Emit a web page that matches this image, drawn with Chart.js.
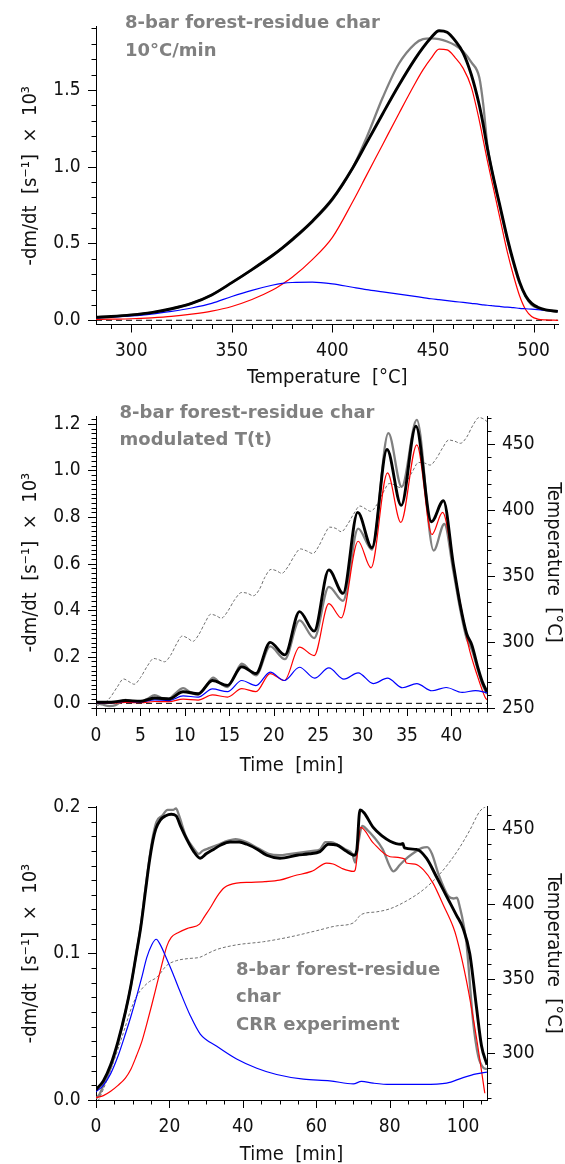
<!DOCTYPE html>
<html>
<head>
<meta charset="utf-8">
<title>Forest-residue char DTG</title>
<script src="https://cdn.jsdelivr.net/npm/chart.js"></script>
<style>
    body { margin: 0; width: 565px; height: 1164px; overflow: hidden; background: #fff; position: relative; }
    canvas { position: absolute; left: 0; }
</style>
</head>
<body>
<canvas id="chartTga" width="565" height="390" style="top:0px"></canvas>
<canvas id="chartMod" width="565" height="390" style="top:390px"></canvas>
<canvas id="chartCrr" width="565" height="390" style="top:780px"></canvas>
<script>
// ---- panel 1: 10 C/min, x = temperature [C]
var tgaTemp = [282.5, 290, 300, 310, 320, 330, 340, 350, 360, 370, 375, 380, 390, 400, 410, 417, 425, 433, 441, 445, 449, 453, 457, 461, 465, 469, 473, 475, 477, 480, 483, 487, 490, 493, 496, 499, 502, 506, 512];
var tgaExp = [0.018, 0.023, 0.033, 0.05, 0.075, 0.11, 0.165, 0.245, 0.33, 0.42, 0.47, 0.52, 0.64, 0.785, 0.99, 1.19, 1.45, 1.67, 1.8, 1.83, 1.835, 1.83, 1.815, 1.79, 1.75, 1.68, 1.58, 1.4, 1.14, 0.93, 0.75, 0.52, 0.37, 0.24, 0.155, 0.1, 0.08, 0.066, 0.057];
var tgaFit = [0.02, 0.025, 0.035, 0.05, 0.075, 0.11, 0.165, 0.245, 0.33, 0.42, 0.47, 0.525, 0.645, 0.79, 0.99, 1.155, 1.345, 1.53, 1.7, 1.775, 1.84, 1.885, 1.875, 1.82, 1.74, 1.6, 1.4, 1.27, 1.12, 0.93, 0.76, 0.53, 0.38, 0.25, 0.16, 0.11, 0.085, 0.068, 0.058];
var tgaComp1 = [0.015, 0.02, 0.028, 0.04, 0.058, 0.08, 0.11, 0.155, 0.195, 0.228, 0.24, 0.246, 0.248, 0.237, 0.215, 0.2, 0.185, 0.17, 0.155, 0.148, 0.14, 0.134, 0.128, 0.122, 0.116, 0.11, 0.104, 0.1, 0.098, 0.094, 0.09, 0.085, 0.082, 0.078, 0.075, 0.072, 0.069, 0.065, 0.06];
var tgaComp2 = [0.005, 0.007, 0.01, 0.016, 0.025, 0.04, 0.06, 0.09, 0.135, 0.195, 0.235, 0.28, 0.395, 0.54, 0.77, 0.945, 1.145, 1.345, 1.54, 1.63, 1.705, 1.765, 1.76, 1.71, 1.64, 1.52, 1.3, 1.17, 1.04, 0.86, 0.68, 0.44, 0.29, 0.16, 0.07, 0.025, 0.008, 0.002, 0];
var tgaZeroX = [282.5, 512.3];
var zeroY = [0, 0];

// ---- panel 2: modulated T(t), x = time [min]
var modExpT = [0, 0.7, 1.5, 2.2, 3.3, 4.2, 5.0, 5.8, 6.6, 7.5, 8.2, 9.0, 9.8, 10.6, 11.5, 12.3, 13.2, 14.0, 14.8, 15.6, 16.4, 18.0, 19.6, 21.25, 22.9, 24.55, 26.2, 27.8, 29.5, 31.05, 32.9, 34.4, 36.1, 38.0, 39.2, 40.2, 41.0, 41.7, 42.3, 43.0, 43.5, 44.0];
var modExp = [0.002, -0.005, -0.012, -0.008, 0.015, 0.008, 0.007, 0.02, 0.035, 0.022, 0.02, 0.045, 0.065, 0.048, 0.037, 0.07, 0.11, 0.085, 0.07, 0.12, 0.17, 0.12, 0.245, 0.19, 0.356, 0.28, 0.5, 0.44, 0.75, 0.66, 1.16, 0.93, 1.217, 0.656, 0.77, 0.57, 0.4, 0.28, 0.23, 0.14, 0.08, 0.04];
var modFitT = [0, 1.7, 3.3, 5.0, 6.6, 8.2, 9.8, 11.5, 13.1, 14.8, 16.4, 18.0, 19.6, 21.25, 22.9, 24.55, 26.2, 27.8, 29.45, 31.05, 32.75, 34.35, 36.0, 37.75, 39.1, 40.2, 41.0, 41.7, 42.3, 43.0, 43.5, 44.0];
var modFit = [0.005, 0.005, 0.012, 0.009, 0.023, 0.019, 0.05, 0.041, 0.098, 0.077, 0.157, 0.128, 0.262, 0.208, 0.394, 0.31, 0.573, 0.472, 0.82, 0.668, 1.09, 0.85, 1.19, 0.78, 0.87, 0.6, 0.42, 0.3, 0.25, 0.15, 0.09, 0.05];
var modComp1T = [0, 1.7, 3.3, 5.0, 6.6, 8.2, 9.8, 11.5, 13.1, 14.8, 16.4, 18.0, 19.6, 21.2, 22.9, 24.6, 26.2, 27.9, 29.5, 31.2, 32.8, 34.5, 36.1, 37.8, 39.4, 41.2, 42.7, 44.0];
var modComp1 = [0.002, 0.003, 0.008, 0.006, 0.015, 0.012, 0.032, 0.027, 0.062, 0.05, 0.098, 0.076, 0.134, 0.098, 0.155, 0.108, 0.152, 0.104, 0.131, 0.085, 0.108, 0.067, 0.085, 0.054, 0.068, 0.047, 0.055, 0.045];
var modComp2T = [0, 1.7, 3.3, 5.0, 6.6, 8.2, 9.8, 11.5, 13.1, 14.8, 16.4, 18.0, 19.6, 21.2, 22.9, 24.55, 26.2, 27.6, 29.5, 30.95, 32.8, 34.3, 36.1, 37.8, 39.0, 40.4, 41.2, 41.9, 42.9, 43.8, 44.0];
var modComp2 = [0, 0.001, 0.004, 0.003, 0.008, 0.007, 0.018, 0.014, 0.036, 0.027, 0.063, 0.05, 0.128, 0.098, 0.241, 0.205, 0.428, 0.367, 0.696, 0.582, 0.99, 0.777, 1.11, 0.725, 0.82, 0.55, 0.39, 0.25, 0.12, 0.025, 0.015];
var modTempT = [0, 0.8, 1.6, 2.4, 3.1, 3.7, 4.3, 5.0, 5.8, 6.5, 7.1, 7.7, 8.4, 9.1, 9.7, 10.3, 10.9, 11.6, 12.3, 12.9, 13.5, 14.1, 14.8, 15.6, 16.4, 17.0, 17.7, 18.4, 19.0, 19.7, 20.3, 20.9, 21.6, 22.3, 23.0, 23.7, 24.4, 25.1, 25.7, 26.3, 27.0, 27.6, 28.3, 29.0, 29.7, 30.3, 30.9, 31.6, 32.3, 33.0, 33.6, 34.2, 34.9, 35.6, 36.3, 37.0, 37.6, 38.3, 39.0, 39.7, 40.4, 41.0, 41.7, 42.4, 43.1, 43.6, 44.0];
var modTemp = [252, 253, 258, 266, 272, 270, 268, 273, 282, 287.5, 286.5, 285, 290, 299, 304.5, 303, 300.5, 306, 315, 321, 320, 318, 323, 332, 337.5, 337, 335, 340, 349, 355, 354, 352, 357, 365, 370.5, 369, 367, 373, 381, 387, 386, 383.5, 389, 397, 403, 401, 399, 404, 413, 420, 419, 417, 421, 429, 436, 435.5, 434, 439, 447, 453, 452, 450.5, 455, 464, 470, 469, 467];
var modZeroX = [0, 44];

// ---- panel 3: CRR experiment, x = time [min]
var crrExpT = [0, 1, 2, 4, 6, 8, 9.5, 11, 12.2, 13.5, 14.5, 15.5, 16.5, 18, 19.5, 21, 21.8, 22.5, 24.5, 26.5, 28, 29, 31, 33, 36, 38, 41, 44, 47, 50, 53, 56, 59, 61, 62.5, 64, 66, 68, 69.8, 70.6, 71.5, 72.5, 74, 75.5, 78.1, 80.1, 81, 82.8, 84.2, 86.2, 88.8, 90.2, 91.5, 93.3, 96, 97.4, 98.3, 99.2, 100.1, 100.9, 102.7, 104.1, 105.5, 106.5];
var crrExp = [0.001, 0.004, 0.01, 0.022, 0.039, 0.06, 0.078, 0.1, 0.119, 0.145, 0.164, 0.18, 0.19, 0.194, 0.198, 0.198, 0.199, 0.195, 0.18, 0.172, 0.168, 0.17, 0.172, 0.174, 0.177, 0.178, 0.176, 0.172, 0.168, 0.167, 0.168, 0.169, 0.17, 0.171, 0.176, 0.176, 0.174, 0.171, 0.168, 0.162, 0.176, 0.187, 0.184, 0.18, 0.171, 0.159, 0.156, 0.1605, 0.164, 0.168, 0.172, 0.1725, 0.168, 0.154, 0.139, 0.1375, 0.138, 0.1306, 0.12, 0.107, 0.054, 0.03, 0.022, 0.021];
var crrFitT = [0, 2, 4, 6, 8, 9.5, 11, 12.2, 13.5, 14.5, 15.5, 16.3, 17.5, 19, 20.5, 21.8, 23, 24.7, 26.5, 28.4, 30, 32, 34, 36.5, 39, 41.1, 44, 46.5, 50.1, 54.7, 58, 61, 63.3, 65.6, 68, 70.3, 71.0, 71.9, 73, 75.5, 78, 80.1, 83.0, 83.6, 84.0, 87.3, 90.0, 92.8, 95.5, 98.2, 100, 101.8, 103.6, 105, 106.5];
var crrFit = [0.007, 0.013, 0.024, 0.04, 0.06, 0.078, 0.1, 0.118, 0.143, 0.162, 0.177, 0.185, 0.191, 0.194, 0.195, 0.194, 0.187, 0.178, 0.17, 0.165, 0.168, 0.171, 0.174, 0.176, 0.176, 0.1745, 0.171, 0.167, 0.165, 0.167, 0.168, 0.1695, 0.1745, 0.174, 0.17, 0.167, 0.17, 0.198, 0.196, 0.186, 0.18, 0.1766, 0.1745, 0.175, 0.172, 0.171, 0.165, 0.152, 0.139, 0.126, 0.117, 0.1, 0.064, 0.037, 0.024];
var crrComp1T = [0, 2, 4, 6, 8, 9.5, 11, 12.5, 13.8, 15.2, 16.4, 17.5, 19.3, 21, 22.9, 25.6, 28.4, 32.9, 38.3, 43.8, 49.2, 56.5, 63.7, 70.1, 72.3, 75.5, 80.1, 89.2, 95.5, 100, 103.6, 106.5];
var crrComp1 = [0.0056, 0.01, 0.018, 0.03, 0.045, 0.057, 0.07, 0.084, 0.097, 0.106, 0.1097, 0.106, 0.096, 0.086, 0.074, 0.058, 0.045, 0.0367, 0.028, 0.0217, 0.0174, 0.0142, 0.0131, 0.011, 0.0127, 0.0115, 0.0106, 0.0106, 0.0115, 0.0153, 0.0178, 0.019];
var crrComp2T = [0, 2, 4, 6, 8, 9.5, 11, 12.5, 13.8, 15.2, 16.6, 18, 19.3, 20.5, 22.2, 25.2, 28.2, 29.5, 31.1, 33, 35, 38.3, 42, 46, 50, 54, 58.7, 59.5, 62.8, 64.6, 67, 70.1, 70.6, 72.1, 75.5, 80.1, 84.1, 84.5, 86.9, 89.2, 91.8, 94.6, 97.3, 98.2, 100.9, 103.6, 105.9];
var crrComp2 = [0.0016, 0.003, 0.006, 0.01, 0.015, 0.021, 0.03, 0.04, 0.0516, 0.065, 0.079, 0.093, 0.105, 0.111, 0.114, 0.1174, 0.12, 0.125, 0.131, 0.139, 0.145, 0.148, 0.1485, 0.149, 0.15, 0.153, 0.156, 0.157, 0.1617, 0.161, 0.158, 0.156, 0.157, 0.186, 0.1755, 0.166, 0.1644, 0.1617, 0.161, 0.157, 0.148, 0.133, 0.118, 0.111, 0.0815, 0.043, 0.0046];
var crrTempT = [0, 2, 4, 6, 8, 9.3, 11, 12.9, 14.5, 16.6, 19.3, 22, 25, 28.3, 30.5, 32.9, 38.3, 45.6, 52.8, 60.1, 65.5, 70.1, 72.3, 76.4, 80.1, 84.6, 89.1, 93.6, 98.2, 101.8, 104.5, 106.5];
var crrTemp = [265, 276, 289, 303, 318, 328, 338, 344.4, 348, 351, 359, 362.2, 363.5, 364.4, 367, 369.6, 372.7, 374.8, 378, 382.2, 385.4, 387.4, 393.1, 394.8, 396.9, 402.2, 409.5, 420, 434.7, 449.4, 462, 466];

var yTitle = '-dm/dt  [s\u207B\u00B9]  \u00D7  10\u00B3';
var tTitle = 'Temperature  [\u00B0C]';

Chart.defaults.font.family = "'DejaVu Sans Condensed', 'DejaVu Sans', sans-serif";
Chart.defaults.font.size = 19;
Chart.defaults.color = '#111';

function pts(xs, ys) {
    return xs.map(function (x, i) { return { x: x, y: ys[i] }; });
}

function line(xs, ys, color, width, extra) {
    var ds = {
        data: pts(xs, ys), borderColor: color, borderWidth: width,
        pointRadius: 0, fill: false, cubicInterpolationMode: 'monotone'
    };
    return Object.assign(ds, extra || {});
}

function axis(o) {
    return {
        type: 'linear', position: o.position, min: o.min, max: o.max,
        grid: { display: false, drawTicks: false },
        border: { display: true, color: '#000', width: 1 },
        ticks: {
            stepSize: o.step, includeBounds: false, padding: o.pad, autoSkip: false, maxRotation: 0,
            callback: function (v) { return v.toFixed(o.digits); }
        },
        title: { display: true, text: o.title, padding: o.titlePad, font: { size: 20 } },
        afterFit: function (s) {
            if (s.isHorizontal()) s.height = o.size; else s.width = o.size;
        }
    };
}

// long major and short minor tick marks, outside the axes
var axisMarks = {
    id: 'axisMarks',
    afterDraw: function (chart, args, opts) {
        var ctx = chart.ctx;
        ctx.save();
        ctx.strokeStyle = '#000';
        ctx.lineWidth = 1;
        Object.keys(opts.steps).forEach(function (id) {
            var s = chart.scales[id];
            var major = opts.steps[id][0], minor = opts.steps[id][1];
            var k0 = Math.ceil(s.min / minor - 1e-9), k1 = Math.floor(s.max / minor + 1e-9);
            for (var k = k0; k <= k1; k++) {
                var v = k * minor;
                var len = Math.abs(v / major - Math.round(v / major)) < 1e-6 ? 8 : 4.5;
                var p = Math.round(s.getPixelForValue(v)) + 0.5;
                ctx.beginPath();
                if (s.isHorizontal()) { ctx.moveTo(p, s.top); ctx.lineTo(p, s.top + len); }
                else if (s.position === 'left') { ctx.moveTo(s.right, p); ctx.lineTo(s.right - len, p); }
                else { ctx.moveTo(s.left, p); ctx.lineTo(s.left + len, p); }
                ctx.stroke();
            }
        });
        ctx.restore();
    }
};

var notes = {
    id: 'notes',
    afterDraw: function (chart, args, opts) {
        var ctx = chart.ctx;
        ctx.save();
        ctx.font = "bold 18px 'DejaVu Sans'";
        ctx.fillStyle = '#808080';
        ctx.textBaseline = 'middle';
        opts.lines.forEach(function (t, i) { ctx.fillText(t, opts.x, opts.y + i * opts.gap); });
        ctx.restore();
    }
};

var common = {
    responsive: false, animation: false, devicePixelRatio: 1
};

// panel 1
new Chart(document.getElementById('chartTga'), {
    type: 'line',
    data: {
        datasets: [
            line(tgaTemp, tgaFit, '#000', 2.9),
            line(tgaTemp, tgaComp1, '#0000ff', 1.2),
            line(tgaTemp, tgaComp2, '#ff0000', 1.2),
            line(tgaTemp, tgaExp, '#808080', 2.3),
            line(tgaZeroX, zeroY, '#000', 1, { borderDash: [6, 4] })
        ]
    },
    options: Object.assign({}, common, {
        layout: { padding: { top: 7, right: 1, left: 0, bottom: 0 } },
        plugins: {
            legend: { display: false }, tooltip: { enabled: false },
            axisMarks: { steps: { x: [50, 10], y: [0.5, 0.1] } },
            notes: { x: 125, y: 23.5, gap: 27.5, lines: ['8-bar forest-residue char', '10\u00B0C/min'] }
        },
        scales: {
            x: axis({ position: 'bottom', min: 282.5, max: 512.3, step: 50, digits: 0, pad: 15, size: 65.5, title: tTitle, titlePad: { top: 0, bottom: 0 } }),
            y: axis({ position: 'left', min: -0.0275, max: 1.91, step: 0.5, digits: 1, pad: 15.5, size: 96, title: yTitle, titlePad: { top: 19, bottom: 0 } })
        }
    }),
    plugins: [axisMarks, notes]
});

// panel 2
new Chart(document.getElementById('chartMod'), {
    type: 'line',
    data: {
        datasets: [
            line(modFitT, modFit, '#000', 2.9),
            line(modComp1T, modComp1, '#0000ff', 1.2),
            line(modComp2T, modComp2, '#ff0000', 1.2),
            line(modExpT, modExp, '#808080', 2.3),
            line(modZeroX, zeroY, '#000', 1, { borderDash: [6, 4] }),
            line(modTempT, modTemp, '#707070', 1, { borderDash: [3, 2], yAxisID: 'y2' })
        ]
    },
    options: Object.assign({}, common, {
        layout: { padding: { top: 7, right: 0, left: 0, bottom: 0 } },
        plugins: {
            legend: { display: false }, tooltip: { enabled: false },
            axisMarks: { steps: { x: [5, 1], y: [0.2, 0.02], y2: [50, 10] } },
            notes: { x: 119.6, y: 23.5, gap: 27, lines: ['8-bar forest-residue char', 'modulated T(t)'] }
        },
        scales: {
            x: axis({ position: 'bottom', min: 0, max: 44, step: 5, digits: 0, pad: 17, size: 72, title: 'Time  [min]', titlePad: { top: 0, bottom: 2.5 } }),
            y: axis({ position: 'left', min: -0.02, max: 1.23, step: 0.2, digits: 1, pad: 15.5, size: 96, title: yTitle, titlePad: { top: 19, bottom: 0 } }),
            y2: axis({ position: 'right', min: 250, max: 470.5, step: 50, digits: 0, pad: 15, size: 78, title: tTitle, titlePad: { top: 0, bottom: 0 } })
        }
    }),
    plugins: [axisMarks, notes]
});

// panel 3
new Chart(document.getElementById('chartCrr'), {
    type: 'line',
    data: {
        datasets: [
            line(crrFitT, crrFit, '#000', 2.9),
            line(crrComp1T, crrComp1, '#0000ff', 1.2),
            line(crrComp2T, crrComp2, '#ff0000', 1.2),
            line(crrExpT, crrExp, '#808080', 2.3),
            line(crrTempT, crrTemp, '#707070', 1, { borderDash: [3, 2], yAxisID: 'y2' })
        ]
    },
    options: Object.assign({}, common, {
        layout: { padding: { top: 8.4, right: 0, left: 0, bottom: 0 } },
        plugins: {
            legend: { display: false }, tooltip: { enabled: false },
            axisMarks: { steps: { x: [20, 5], y: [0.1, 0.01], y2: [50, 10] } },
            notes: { x: 236, y: 190, gap: 27.5, lines: ['8-bar forest-residue', 'char', 'CRR experiment'] }
        },
        scales: {
            x: axis({ position: 'bottom', min: 0, max: 106.5, step: 20, digits: 0, pad: 16, size: 70, title: 'Time  [min]', titlePad: { top: 0, bottom: 3 } }),
            y: axis({ position: 'left', min: 0, max: 0.2, step: 0.1, digits: 1, pad: 15.5, size: 96, title: yTitle, titlePad: { top: 19, bottom: 0 } }),
            y2: axis({ position: 'right', min: 268.8, max: 465.1, step: 50, digits: 0, pad: 15, size: 78, title: tTitle, titlePad: { top: 0, bottom: 0 } })
        }
    }),
    plugins: [axisMarks, notes]
});
</script>
</body>
</html>
